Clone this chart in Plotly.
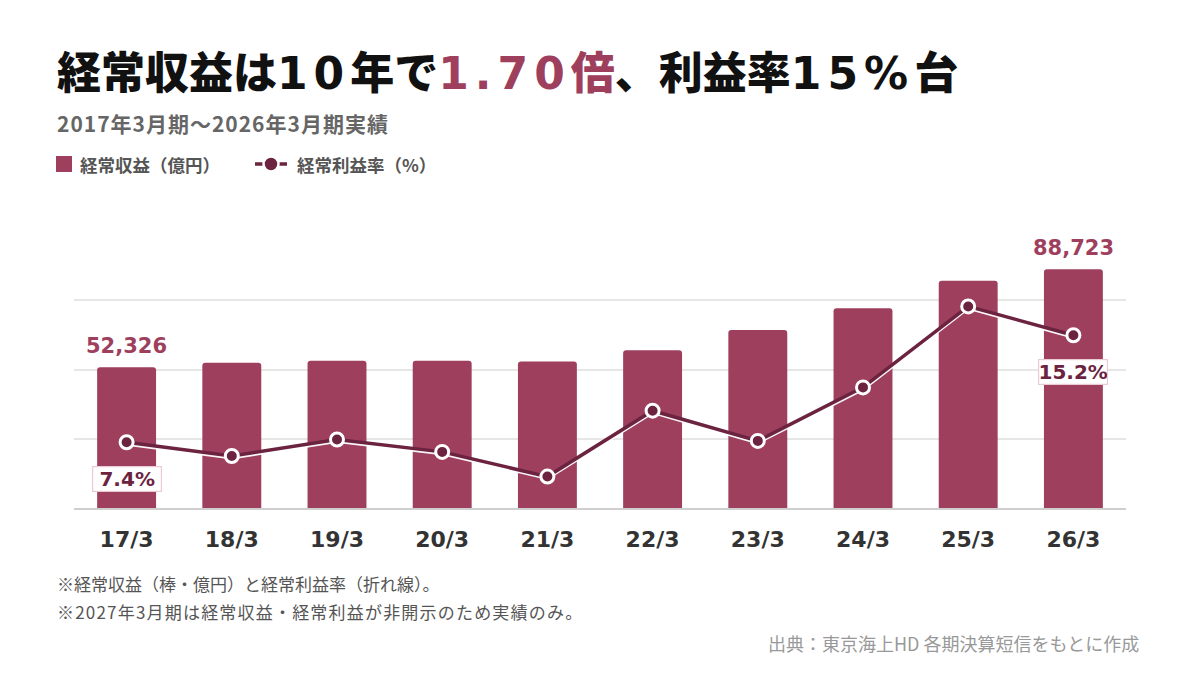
import plotly.graph_objects as go

categories = ["17/3", "18/3", "19/3", "20/3", "21/3", "22/3", "23/3", "24/3", "25/3", "26/3"]
revenue = [52326, 54000, 54750, 54750, 54500, 58650, 66150, 74250, 84500, 88723]
margin = [7.4, 6.4, 7.6, 6.7, 4.9, 9.7, 7.5, 11.4, 17.3, 15.2]
revenue_labeled = [0, 9]
margin_labeled = [0, 9]

BAR = "#9E3F5E"
LINE = "#6B2340"
FONT = "Noto Sans CJK JP"
NUM = "DejaVu Sans"

fig = go.Figure()
fig.add_trace(go.Bar(
    x=categories, y=revenue, name="経常収益（億円）",
    marker=dict(color=BAR, cornerradius=3, line=dict(width=0)),
    width=0.56, yaxis="y", showlegend=False,
))
# subtle white underline, slightly offset below the line (drawn beneath it)
fig.add_trace(go.Scatter(
    x=categories, y=margin, mode="lines", showlegend=False, hoverinfo="skip",
    line=dict(color="rgba(255,255,255,0.95)", width=2.5), yaxis="y2",
))
fig.add_trace(go.Scatter(
    x=categories, y=margin, name="経常利益率（%）", mode="lines+markers",
    line=dict(color=LINE, width=3.5),
    marker=dict(size=13, color=LINE, line=dict(color="white", width=3)),
    yaxis="y3", cliponaxis=False, showlegend=False,
))

W, H = 1200, 680
L, R, T, B = 74, 74, 240, 172
pw, ph = W - L - R, H - T - B
y_top = 99628
m_low, m_high = 2.61, 22.14
shift = 0.16


def px(x):
    return (x - L) / pw


def py(y):
    return (H - B - y) / ph


annotations = []
for i in revenue_labeled:
    annotations.append(dict(
        x=categories[i], y=revenue[i], xref="x", yref="y",
        text=f"{revenue[i]:,}", showarrow=False, yanchor="middle", yshift=21,
        font=dict(family=NUM, size=21, color=BAR, weight=700),
    ))
for i in margin_labeled:
    annotations.append(dict(
        x=categories[i], y=margin[i], xref="x", yref="y3",
        text=f"{margin[i]:.1f}%", showarrow=False, yshift=-37,
        font=dict(family=NUM, size=20, color=LINE, weight=700),
        bgcolor="white", bordercolor="#EACBD5", borderwidth=1.2, borderpad=0,
        width=68, height=24,
    ))

D = f"font-family:{NUM};letter-spacing:6px"
title = (f"経常収益は<span style='{D}'>10</span>年で"
         f"<span style='color:{BAR};{D}'>1.70</span><span style='color:{BAR}'>倍</span>、利益率"
         f"<span style='{D}'>15%</span>台")

text_items = [
    dict(x=px(55), y=py(70), xanchor="left", yanchor="middle", text=title,
         font=dict(family=FONT, size=44, color="#111111", weight=900)),
    dict(x=px(55), y=py(123), xanchor="left", yanchor="middle",
         text="<span style='letter-spacing:1px'>2017年3月期〜2026年3月期実績</span>",
         font=dict(family=FONT, size=21, color="#666666", weight=700)),
    dict(x=px(78), y=py(164), xanchor="left", yanchor="middle",
         text="経常収益（億円）",
         font=dict(family=FONT, size=17.5, color="#555555", weight=700)),
    dict(x=px(295), y=py(164), xanchor="left", yanchor="middle",
         text="経常利益率（%）",
         font=dict(family=FONT, size=17.5, color="#555555", weight=700)),
    dict(x=px(55), y=py(583), xanchor="left", yanchor="middle",
         text="※経常収益（棒・億円）と経常利益率（折れ線）。",
         font=dict(family=FONT, size=17, color="#555555")),
    dict(x=px(55), y=py(611), xanchor="left", yanchor="middle",
         text="<span style='letter-spacing:1.2px'>※2027年3月期は経常収益・経常利益が非開示のため実績のみ。</span>",
         font=dict(family=FONT, size=17, color="#555555")),
    dict(x=px(1141), y=py(643), xanchor="right", yanchor="middle",
         text="出典：東京海上HD 各期決算短信をもとに作成",
         font=dict(family=FONT, size=18, color="#999999")),
]
for t in text_items:
    t.update(xref="paper", yref="paper", showarrow=False)
annotations += text_items

shapes = [
    dict(type="rect", xref="paper", yref="paper",
         x0=px(56), x1=px(72), y0=py(156), y1=py(172),
         fillcolor=BAR, line=dict(width=0), layer="above"),
    dict(type="line", xref="paper", yref="paper",
         x0=px(255), x1=px(287), y0=py(164), y1=py(164),
         line=dict(color=LINE, width=3.5), layer="above"),
    dict(type="circle", xref="paper", yref="paper",
         x0=px(263.5), x1=px(278.5), y0=py(156.5), y1=py(171.5),
         fillcolor=LINE, line=dict(color="white", width=2.5), layer="above"),
]

fig.update_layout(
    width=W, height=H,
    margin=dict(l=L, r=R, t=T, b=B),
    paper_bgcolor="white", plot_bgcolor="white",
    showlegend=False,
    xaxis=dict(showgrid=False, showline=True, linecolor="#CFCFCF", linewidth=2,
               ticks="", ticklabelstandoff=11, range=[-0.5, 9.5],
               tickfont=dict(family=NUM, size=22, color="#333333", weight=700)),
    yaxis=dict(range=[0, y_top], tickvals=[0, 25730, 51460, 77190], showticklabels=False,
               showgrid=True, gridcolor="#E6E6E6", gridwidth=1.5, zeroline=False),
    yaxis2=dict(range=[m_low + shift, m_high + shift], overlaying="y", side="right",
                showgrid=False, showticklabels=False, zeroline=False),
    yaxis3=dict(range=[m_low, m_high], overlaying="y", side="right", showgrid=False,
                showticklabels=False, zeroline=False),
    font=dict(family=FONT),
    annotations=annotations,
    shapes=shapes,
)

fig.write_html("out.html", config={"displayModeBar": False},
               post_script="document.body.style.margin='0';")
